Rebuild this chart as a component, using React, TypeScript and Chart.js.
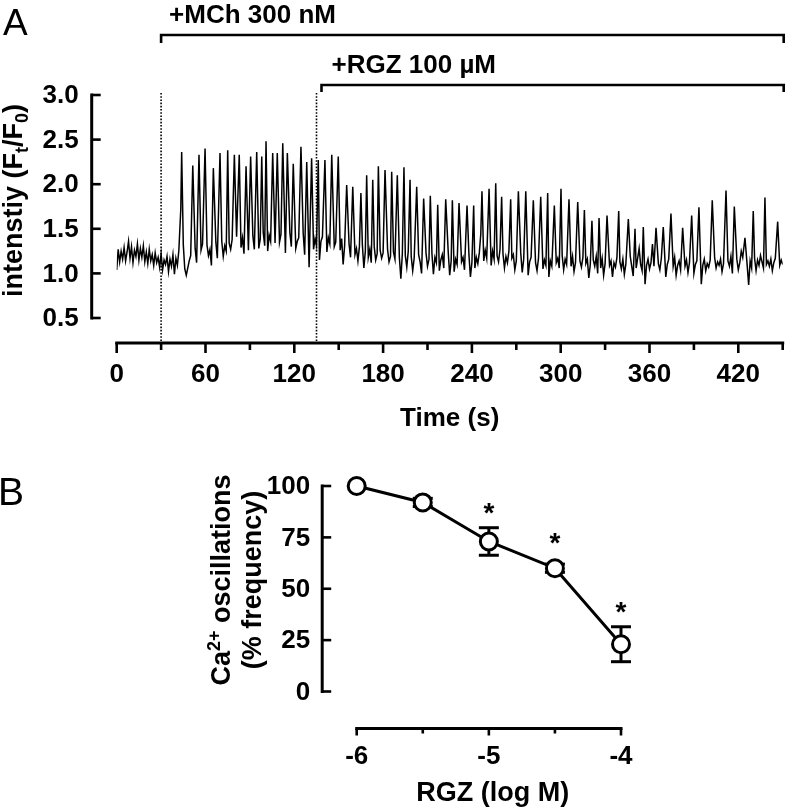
import React, { useEffect, useRef } from 'react';
import { Chart, registerables } from 'chart.js';

Chart.register(...registerables);

const FONT = '"Liberation Sans", Arial, Helvetica, sans-serif';
const INK = '#000000';

// ---------------- Panel A : Ca2+ trace ----------------
const timeMajorTicks = [0, 60, 120, 180, 240, 300, 360, 420];
const timeMinorTicks = [30, 90, 150, 210, 270, 330, 390, 450];
const intensityTicks = [0.5, 1.0, 1.5, 2.0, 2.5, 3.0];
const timeRange = [0, 450];
const intensityRange = [0.5, 3.0];
const mchAddedAt = 30;
const rgzAddedAt = 135;
const mchLabel = '+MCh 300 nM';
const rgzLabel = '+RGZ 100 \u00B5M';
const timeTitle = 'Time (s)';

// noisy floor of the trace, one reading per second (0 .. 450 s)
const baselineStepSeconds = 1;
const baselineIntensity = [
  1.04, 1.27, 1.13, 1.25, 1.16, 1.29, 1.14, 1.24, 1.36, 1.17,
  1.30, 1.12, 1.26, 1.19, 1.33, 1.15, 1.28, 1.18, 1.31, 1.13,
  1.24, 1.11, 1.27, 1.14, 1.21, 1.09, 1.23, 1.12, 1.18, 1.07,
  1.22, 1.04, 1.15, 1.10, 1.19, 1.02, 1.16, 1.08, 1.21, 0.99,
  1.17, 1.09, 1.26, 1.30, 1.55, 1.32, 1.05, 0.98, 1.06, 1.14,
  1.20, 1.15, 1.22, 1.28, 1.12, 1.30, 1.18, 1.26, 1.33, 1.21,
  1.15, 1.32, 1.20, 1.27, 1.09, 1.30, 1.24, 1.35, 1.17, 1.28,
  1.22, 1.36, 1.19, 1.31, 1.25, 1.12, 1.34, 1.27, 1.38, 1.21,
  1.30, 1.41, 1.24, 1.36, 1.29, 1.40, 1.22, 1.33, 1.45, 1.26,
  1.38, 1.30, 1.42, 1.27, 1.37, 1.44, 1.28, 1.39, 1.33, 1.46,
  1.31, 1.40, 1.25, 1.43, 1.36, 1.30, 1.47, 1.34, 1.26, 1.41,
  1.35, 1.44, 1.29, 1.38, 1.23, 1.42, 1.34, 1.46, 1.30, 1.37,
  1.43, 1.28, 1.36, 1.40, 1.25, 1.33, 1.45, 1.21, 1.38, 1.30,
  1.07, 1.35, 1.42, 1.27, 1.39, 1.31, 1.44, 1.15, 1.36, 1.41,
  1.29, 1.37, 1.24, 1.40, 1.33, 1.20, 1.38, 1.30, 1.35, 1.22,
  1.34, 1.26, 1.39, 1.10, 1.31, 1.36, 1.24, 1.33, 1.18, 1.29,
  1.35, 1.21, 1.28, 1.14, 1.30, 1.23, 1.32, 1.06, 1.25, 0.95,
  1.18, 1.27, 1.12, 1.24, 1.30, 1.15, 1.22, 1.09, 1.26, 1.17,
  1.23, 1.08, 1.20, 1.27, 1.13, 1.19, 1.05, 1.24, 1.16, 1.21,
  1.10, 1.18, 0.94, 1.22, 1.14, 1.20, 1.07, 1.25, 1.12, 1.19,
  1.03, 1.17, 1.24, 1.09, 1.21, 1.13, 1.00, 1.19, 1.15, 1.23,
  1.08, 1.16, 1.11, 1.22, 0.99, 1.18, 1.12, 1.20, 1.03, 1.15,
  1.21, 1.06, 1.17, 1.11, 1.24, 0.98, 1.14, 1.19, 1.02, 1.16,
  1.10, 1.20, 0.97, 1.13, 1.18, 1.04, 1.15, 1.09, 1.21, 0.96,
  1.12, 0.90, 1.06, 1.18, 1.11, 1.23, 1.44, 1.19, 1.14, 1.26,
  1.17, 1.30, 1.21, 1.09, 1.25, 1.16, 1.32, 1.20, 1.13, 1.27,
  1.15, 1.22, 1.06, 1.19, 1.12, 1.25, 1.08, 1.17, 1.21, 1.04,
  1.14, 1.20, 1.10, 1.23, 1.01, 1.16, 1.11, 1.19, 0.98, 1.13,
  1.18, 1.07, 1.22, 1.12, 1.03, 1.17, 1.10, 1.20, 1.05, 1.15,
  1.09, 1.19, 0.96, 1.14, 1.08, 1.21, 1.02, 1.12, 1.17, 1.06,
  1.13, 1.20, 1.04, 1.16, 1.10, 0.97, 1.15, 1.08, 1.19, 1.02,
  1.12, 1.17, 0.99, 1.14, 1.07, 1.18, 1.01, 1.11, 1.16, 0.95,
  1.10, 1.04, 1.15, 1.08, 1.19, 1.00, 1.13, 1.06, 1.17, 0.98,
  1.11, 1.16, 1.03, 1.09, 1.14, 0.96, 1.12, 1.07, 1.18, 1.01,
  1.13, 1.05, 1.16, 0.99, 1.10, 1.15, 1.02, 1.19, 1.08, 0.97,
  1.12, 1.06, 1.17, 1.28, 1.10, 1.03, 1.14, 0.88, 1.09, 1.16,
  1.05, 1.12, 1.33, 1.08, 1.15, 0.99, 1.11, 1.04, 1.17, 1.07,
  1.13, 0.96, 1.10, 1.16, 1.02, 1.12, 1.08, 1.18, 0.98, 1.09,
  1.14, 1.04, 1.11, 0.93, 1.08, 1.15, 1.01, 1.12, 1.06, 1.17,
  1.00, 1.10, 1.14, 1.05, 1.12, 0.88, 1.09, 1.16, 1.03, 1.11,
  1.07, 1.15, 0.99, 1.12, 1.18, 1.06, 1.13, 1.09, 1.16, 1.02,
  1.11, 1.17, 1.05, 1.14, 1.08, 1.19, 1.00, 1.13, 1.10, 1.16,
  1.04, 1.12, 1.25, 1.18, 1.07, 1.32, 1.09, 0.87, 1.14, 1.06,
  1.11, 1.17, 1.03, 1.15, 1.09, 1.20, 1.13, 1.06, 1.18, 1.10,
  1.14, 1.08, 1.16, 1.03, 1.12, 1.17, 1.07, 1.13, 1.09, 1.15,
  1.10,
];

// oscillation peaks: [time (s), Ft/F0]
const spikePeaks: [number, number][] = [
  [43.3, 1.72], [43.9, 2.36], [51.4, 2.21], [55.6, 2.33], [59.7, 2.40],
  [65.3, 2.18], [69.8, 2.35], [75.0, 2.38], [79.5, 2.33], [82.8, 2.33],
  [87.4, 2.20], [90.5, 2.31], [94.6, 2.36], [98.0, 2.31], [100.9, 2.48],
  [105.4, 2.35], [108.5, 2.35], [112.2, 2.46], [115.3, 2.35], [119.3, 2.23],
  [124.5, 2.42], [128.4, 2.25], [131.7, 2.29], [136.2, 2.27], [140.7, 2.27],
  [145.3, 2.33], [149.7, 2.31], [155.4, 1.99], [159.5, 1.97], [165.0, 1.90],
  [168.9, 2.10], [173.0, 2.05], [176.8, 2.20], [181.3, 2.16], [185.8, 2.14],
  [189.6, 2.10], [194.1, 2.19], [198.2, 2.05], [202.7, 1.97], [207.4, 1.84],
  [211.9, 1.87], [216.9, 1.77], [222.3, 1.83], [226.8, 1.82], [231.3, 1.79],
  [236.7, 1.76], [241.2, 1.76], [246.8, 1.92], [251.6, 1.95], [256.1, 2.01],
  [260.1, 1.86], [266.2, 1.83], [271.4, 1.92], [276.4, 1.92], [281.5, 1.82],
  [286.5, 1.86], [291.2, 1.90], [295.7, 1.76], [300.2, 1.95], [305.6, 1.83],
  [311.5, 1.80], [316.0, 1.71], [321.1, 1.59], [325.9, 1.62], [331.3, 1.65],
  [339.2, 1.70], [345.7, 1.61], [350.2, 1.50], [355.8, 1.52], [364.4, 1.51],
  [369.3, 1.52], [374.5, 1.67], [382.4, 1.51], [388.5, 1.65], [393.4, 1.74],
  [402.4, 1.82], [411.7, 1.93], [417.3, 1.75], [424.5, 1.40], [430.1, 1.70],
  [438.0, 1.85], [446.6, 1.58],
];

// ---------------- Panel B : dose response ----------------
const rgzLogM = [-6, -5.5, -5, -4.5, -4];
const oscillationFreq = [100, 92, 73, 60, 23];
const oscillationSem = [0, 2, 6.7, 2, 8.5];
const oscillationSignificant = [false, false, true, true, true];
const rgzMajorTicks = [-6, -5, -4];
const rgzMinorTicks = [-5.5, -4.5];
const freqTicks = [0, 25, 50, 75, 100];
const rgzRange = [-6, -4];
const freqRange = [0, 100];

// build trace from the readings
function buildTrace() {
  const pts: { x: number; y: number }[] = [];
  baselineIntensity.forEach((v, i) => {
    const t = i * baselineStepSeconds;
    if (spikePeaks.some(([tp]) => Math.abs(t - tp) < 0.8)) return;
    pts.push({ x: t, y: v });
  });
  spikePeaks.forEach(([t, v]) => pts.push({ x: t, y: v }));
  pts.sort((a, b) => a.x - b.x);
  return pts;
}

function seg(ctx: CanvasRenderingContext2D, x1: number, y1: number, x2: number, y2: number) {
  ctx.beginPath();
  ctx.moveTo(x1, y1);
  ctx.lineTo(x2, y2);
  ctx.stroke();
}

function bold(px: number) {
  return `bold ${px}px ${FONT}`;
}

type Piece = { t: string; mode?: 'sub' | 'sup' };
function drawPieces(ctx: CanvasRenderingContext2D, pieces: Piece[], size: number, centerU: number, baseV: number) {
  const small = Math.round(size * 0.66);
  let total = 0;
  pieces.forEach((p) => {
    ctx.font = bold(p.mode ? small : size);
    total += ctx.measureText(p.t).width;
  });
  let u = centerU - total / 2;
  ctx.textAlign = 'left';
  ctx.textBaseline = 'alphabetic';
  pieces.forEach((p) => {
    ctx.font = bold(p.mode ? small : size);
    const dv = p.mode === 'sub' ? size * 0.24 : p.mode === 'sup' ? -size * 0.38 : 0;
    ctx.fillText(p.t, u, baseV + dv);
    u += ctx.measureText(p.t).width;
  });
}

const panelAPlugin = {
  id: 'panelADecor',
  afterDraw(chart: any) {
    const { ctx, chartArea } = chart;
    const xs = chart.scales.x;
    const ys = chart.scales.y;
    const axisX = chartArea.left - 25;
    const axisY = chartArea.bottom + 25;
    const yTop = ys.getPixelForValue(intensityRange[1]);
    const yBot = ys.getPixelForValue(intensityRange[0]);
    const xL = xs.getPixelForValue(timeRange[0]);
    const xR = xs.getPixelForValue(timeRange[1]);
    ctx.save();
    ctx.strokeStyle = INK;
    ctx.fillStyle = INK;

    // treatment onset dotted lines
    ctx.lineWidth = 1.6;
    ctx.setLineDash([1.6, 1.6]);
    [mchAddedAt, rgzAddedAt].forEach((t) => {
      const x = xs.getPixelForValue(t);
      seg(ctx, x, yTop - 2, x, axisY);
    });
    ctx.setLineDash([]);

    // y axis
    ctx.lineWidth = 3;
    seg(ctx, axisX, yTop - 1.5, axisX, yBot + 1.5);
    ctx.lineWidth = 2.6;
    ctx.font = bold(26);
    ctx.textAlign = 'right';
    ctx.textBaseline = 'middle';
    intensityTicks.forEach((v) => {
      const y = ys.getPixelForValue(v);
      seg(ctx, axisX, y, axisX + 9, y);
      ctx.fillText(v.toFixed(1), axisX - 13, y + 1);
    });

    // x axis
    ctx.lineWidth = 3;
    seg(ctx, xL - 1.5, axisY, xR + 1.5, axisY);
    ctx.lineWidth = 2.6;
    timeMinorTicks.forEach((t) => {
      const x = xs.getPixelForValue(t);
      seg(ctx, x, axisY, x, axisY + 7);
    });
    ctx.textAlign = 'center';
    timeMajorTicks.forEach((t) => {
      const x = xs.getPixelForValue(t);
      seg(ctx, x, axisY, x, axisY + 10);
      ctx.fillText(String(t), x, axisY + 32);
    });
    ctx.fillText(timeTitle, (xL + xR) / 2, axisY + 76);

    // y title (rotated)
    ctx.save();
    ctx.translate(22, (yTop + yBot) / 2 - 6);
    ctx.rotate(-Math.PI / 2);
    drawPieces(ctx, [{ t: 'intenstiy (F' }, { t: 't', mode: 'sub' }, { t: '/F' }, { t: '0', mode: 'sub' }, { t: ')' }], 27, 0, 0);
    ctx.restore();

    // treatment brackets
    const bracketRight = xR + 1;
    const mchX = xs.getPixelForValue(mchAddedAt);
    const rgzX = xs.getPixelForValue(rgzAddedAt) + 5;
    ctx.lineWidth = 2.6;
    ctx.beginPath();
    ctx.moveTo(mchX, 43);
    ctx.lineTo(mchX, 35);
    ctx.lineTo(bracketRight, 35);
    ctx.lineTo(bracketRight, 43);
    ctx.stroke();
    ctx.beginPath();
    ctx.moveTo(rgzX, 92);
    ctx.lineTo(rgzX, 85);
    ctx.lineTo(bracketRight, 85);
    ctx.lineTo(bracketRight, 92);
    ctx.stroke();
    ctx.font = bold(26);
    ctx.textAlign = 'left';
    ctx.textBaseline = 'middle';
    ctx.fillText(mchLabel, mchX + 8, 16);
    ctx.fillText(rgzLabel, rgzX + 10, 66);

    // panel letter
    ctx.font = `37px ${FONT}`;
    ctx.textBaseline = 'alphabetic';
    ctx.fillText('A', 3, 35);
    ctx.restore();
  },
};

const panelBPlugin = {
  id: 'panelBDecor',
  beforeDatasetsDraw(chart: any) {
    const { ctx } = chart;
    const xs = chart.scales.x;
    const ys = chart.scales.y;
    ctx.save();
    ctx.strokeStyle = INK;
    ctx.lineWidth = 3;
    rgzLogM.forEach((lx, i) => {
      const s = oscillationSem[i];
      if (!s) return;
      const x = xs.getPixelForValue(lx);
      const yHi = ys.getPixelForValue(oscillationFreq[i] + s);
      const yLo = ys.getPixelForValue(oscillationFreq[i] - s);
      seg(ctx, x, yHi, x, yLo);
      seg(ctx, x - 10, yHi, x + 10, yHi);
      seg(ctx, x - 10, yLo, x + 10, yLo);
    });
    ctx.restore();
  },
  afterDraw(chart: any) {
    const { ctx, chartArea } = chart;
    const xs = chart.scales.x;
    const ys = chart.scales.y;
    const axisX = chartArea.left - 34.5;
    const axisY = chartArea.bottom + 37;
    const yTop = ys.getPixelForValue(freqRange[1]);
    const yBot = ys.getPixelForValue(freqRange[0]);
    const xL = xs.getPixelForValue(rgzRange[0]);
    const xR = xs.getPixelForValue(rgzRange[1]);
    ctx.save();
    ctx.strokeStyle = INK;
    ctx.fillStyle = INK;

    // y axis
    ctx.lineWidth = 3;
    seg(ctx, axisX, yTop - 1.5, axisX, yBot + 1.5);
    ctx.lineWidth = 2.6;
    ctx.font = bold(26);
    ctx.textAlign = 'right';
    ctx.textBaseline = 'middle';
    freqTicks.forEach((v) => {
      const y = ys.getPixelForValue(v);
      seg(ctx, axisX, y, axisX + 9, y);
      ctx.fillText(String(v), axisX - 12, y + 1);
    });

    // x axis
    ctx.lineWidth = 3;
    seg(ctx, xL - 1.5, axisY, xR + 1.5, axisY);
    ctx.lineWidth = 2.6;
    rgzMinorTicks.forEach((v) => {
      const x = xs.getPixelForValue(v);
      seg(ctx, x, axisY, x, axisY + 5);
    });
    ctx.textAlign = 'center';
    rgzMajorTicks.forEach((v) => {
      const x = xs.getPixelForValue(v);
      seg(ctx, x, axisY, x, axisY + 7);
      ctx.fillText(String(v), x, axisY + 28);
    });
    ctx.font = bold(27);
    ctx.fillText('RGZ (log M)', (xL + xR) / 2 + 4, axisY + 65);

    // significance marks
    ctx.font = bold(28);
    ctx.textBaseline = 'alphabetic';
    rgzLogM.forEach((lx, i) => {
      if (!oscillationSignificant[i]) return;
      const x = xs.getPixelForValue(lx);
      const yc = ys.getPixelForValue(oscillationFreq[i]);
      const hi = Math.max(yc - ys.getPixelForValue(oscillationFreq[i] + oscillationSem[i]), 10);
      const cy = yc - hi - 22;
      ctx.fillText('*', x, cy + 16);
    });

    // y title (two rotated lines)
    ctx.save();
    ctx.translate(230, 125);
    ctx.rotate(-Math.PI / 2);
    drawPieces(ctx, [{ t: 'Ca' }, { t: '2+', mode: 'sup' }, { t: ' oscillations' }], 27, 0, 0);
    drawPieces(ctx, [{ t: '(% frequency)' }], 27, 0, 31);
    ctx.restore();

    // panel letter
    ctx.font = `39px ${FONT}`;
    ctx.textAlign = 'left';
    ctx.textBaseline = 'alphabetic';
    ctx.fillText('B', -2, 50);
    ctx.restore();
  },
};

const A_W = 788;
const A_H = 455;
const B_H = 354;

export default function App() {
  const refA = useRef<HTMLCanvasElement>(null);
  const refB = useRef<HTMLCanvasElement>(null);

  useEffect(() => {
    const chartA = new Chart(refA.current as HTMLCanvasElement, {
      type: 'line',
      data: {
        datasets: [
          {
            data: buildTrace(),
            borderColor: INK,
            borderWidth: 1.5,
            pointRadius: 0,
            tension: 0,
            fill: false,
          },
        ],
      },
      options: {
        animation: false,
        responsive: false,
        events: [],
        layout: { padding: { left: 116.7, right: 5.3, top: 95, bottom: 137 } },
        scales: {
          x: { type: 'linear', min: timeRange[0], max: timeRange[1], display: false },
          y: { type: 'linear', min: intensityRange[0], max: intensityRange[1], display: false },
        },
        plugins: { legend: { display: false }, tooltip: { enabled: false } },
      },
      plugins: [panelAPlugin],
    });

    const chartB = new Chart(refB.current as HTMLCanvasElement, {
      type: 'line',
      data: {
        datasets: [
          {
            data: rgzLogM.map((x, i) => ({ x, y: oscillationFreq[i] })),
            borderColor: INK,
            borderWidth: 3,
            pointRadius: 8.5,
            pointBorderWidth: 3,
            pointBackgroundColor: '#ffffff',
            pointBorderColor: INK,
            tension: 0,
            fill: false,
            clip: false,
          },
        ],
      },
      options: {
        animation: false,
        responsive: false,
        events: [],
        layout: { padding: { left: 356.7, right: 167, top: 31, bottom: 117.5 } },
        scales: {
          x: { type: 'linear', min: rgzRange[0], max: rgzRange[1], display: false },
          y: { type: 'linear', min: freqRange[0], max: freqRange[1], display: false },
        },
        plugins: { legend: { display: false }, tooltip: { enabled: false } },
      },
      plugins: [panelBPlugin],
    });

    return () => {
      chartA.destroy();
      chartB.destroy();
    };
  }, []);

  return (
    <div style={{ position: 'absolute', left: 0, top: 0, width: A_W, height: A_H + B_H, background: '#fff' }}>
      <canvas ref={refA} width={A_W} height={A_H} style={{ position: 'absolute', left: 0, top: 0, width: A_W, height: A_H }} />
      <canvas ref={refB} width={A_W} height={B_H} style={{ position: 'absolute', left: 0, top: A_H, width: A_W, height: B_H }} />
    </div>
  );
}
